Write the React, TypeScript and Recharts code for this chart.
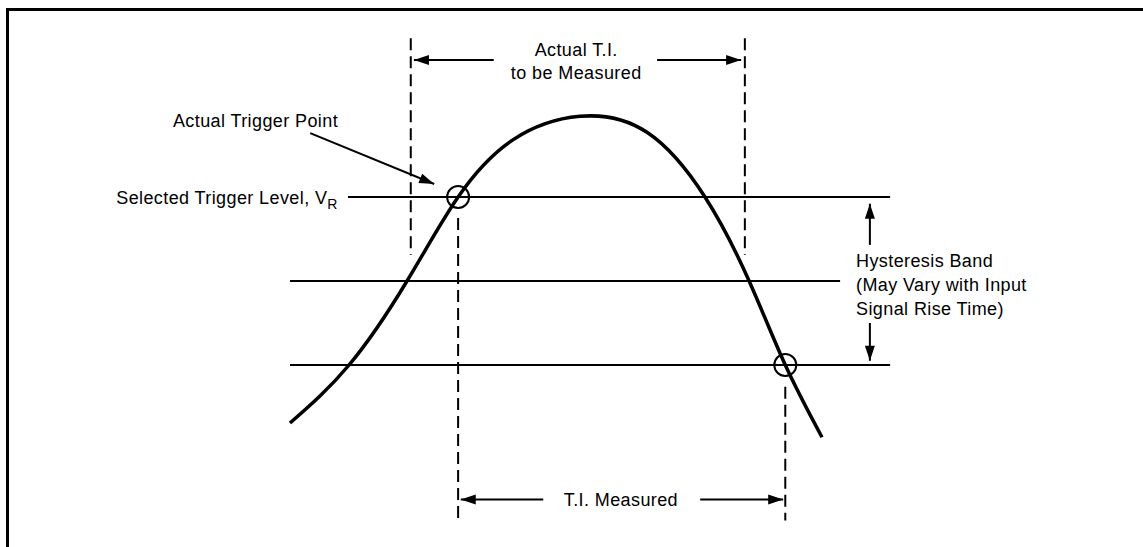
import React from "react";
import {
  LineChart,
  Line,
  XAxis,
  YAxis,
  ReferenceLine,
  ReferenceDot,
} from "recharts";

const WIDTH = 1143;
const HEIGHT = 547;
const MARGIN = { top: 113, right: 321, bottom: 98, left: 290 };
const T_DOMAIN: [number, number] = [0, 100];
const V_DOMAIN: [number, number] = [-1, 3];
const PX_PER_T = (WIDTH - MARGIN.left - MARGIN.right) / (T_DOMAIN[1] - T_DOMAIN[0]);
const PX_PER_V = (HEIGHT - MARGIN.top - MARGIN.bottom) / (V_DOMAIN[1] - V_DOMAIN[0]);
const FONT = "'Liberation Sans', Arial, Helvetica, sans-serif";

// input signal (time, volts)
const signalTime = [0, 11.1, 22.0, 31.6, 41.9, 54.5, 67.1, 78.0, 86.3, 93.1, 100];
const signalVolts = [-0.69, 0, 1.0, 2.0, 2.68, 2.96, 2.77, 2.0, 1.0, 0, -0.86];

// horizontal levels: trigger level, hysteresis middle, hysteresis bottom
const levelVolts = [2, 1, 0];
const levelStart = [10.9, 0, 0];
const levelEnd = [112.8, 103.4, 112.8];

// dashed time markers
const markerTime = [22.7, 85.5, 31.6, 93.1];
const markerTop = [3.89, 3.89, 1.75, -0.26];
const markerBottom = [1.31, 1.31, -1.85, -1.85];

// trigger crossings (circled)
const crossTime = [31.6, 93.1];
const crossVolts = [2, 0];

// arrows: tail -> tip
const arrowFromT = [38.3, 69.0, 47.6, 77.1, 109.0, 109.0, 3.8];
const arrowFromV = [3.63, 3.63, -1.6, -1.6, 1.43, 0.5, 2.76];
const arrowToT = [23.3, 84.8, 32.1, 92.7, 109.0, 109.0, 27.1];
const arrowToV = [3.63, 3.63, -1.6, -1.6, 1.92, 0.05, 2.155];

// text labels
const labelText = [
  ["Actual T.I."],
  ["to be Measured"],
  ["Actual Trigger Point"],
  ["Hysteresis Band", "(May Vary with Input", "Signal Rise Time)"],
  ["T.I. Measured"],
];
const labelT = [53.8, 53.8, -22.0, 106.4, 62.2];
const labelV = [3.68, 3.405, 2.833, 1.167, -1.68];
const labelAnchor = ["middle", "middle", "start", "start", "middle"];

const data = signalTime.map((t, i) => ({ t, v: signalVolts[i] }));

function ArrowHead({ cx, cy, angle }: { cx: number; cy: number; angle: number }) {
  const L = 15;
  const W = 5;
  const dx = Math.cos(angle);
  const dy = Math.sin(angle);
  const bx = cx - L * dx;
  const by = cy - L * dy;
  const pts = [
    [cx, cy],
    [bx - W * dy, by + W * dx],
    [bx + W * dy, by - W * dx],
  ]
    .map((p) => p.join(","))
    .join(" ");
  return <polygon points={pts} fill="#000" />;
}

export default function App() {
  return (
    <div style={{ position: "absolute", left: 0, top: 0, width: WIDTH, height: HEIGHT, background: "#fff" }}>
      <div
        style={{
          position: "absolute",
          left: 6,
          top: 8,
          width: WIDTH - 6,
          height: HEIGHT - 8,
          borderTop: "3px solid #000",
          borderLeft: "3px solid #000",
          boxSizing: "border-box",
        }}
      />
      <LineChart width={WIDTH} height={HEIGHT} data={data} margin={MARGIN} style={{ position: "absolute", left: 0, top: 0 }}>
        <XAxis type="number" dataKey="t" domain={T_DOMAIN} hide />
        <YAxis type="number" domain={V_DOMAIN} hide />

        {levelVolts.map((v, i) => (
          <ReferenceLine
            key={`lvl-${i}`}
            segment={[
              { x: levelStart[i], y: v },
              { x: levelEnd[i], y: v },
            ]}
            stroke="#000"
            strokeWidth={2}
            ifOverflow="visible"
          />
        ))}

        {markerTime.map((t, i) => (
          <ReferenceLine
            key={`mk-${i}`}
            segment={[
              { x: t, y: markerTop[i] },
              { x: t, y: markerBottom[i] },
            ]}
            stroke="#000"
            strokeWidth={2}
            strokeDasharray="12 6"
            ifOverflow="visible"
          />
        ))}

        {arrowFromT.map((t, i) => (
          <ReferenceLine
            key={`ar-${i}`}
            segment={[
              { x: t, y: arrowFromV[i] },
              { x: arrowToT[i], y: arrowToV[i] },
            ]}
            stroke="#000"
            strokeWidth={2}
            ifOverflow="visible"
          />
        ))}
        {arrowToT.map((t, i) => {
          const angle = Math.atan2(
            -(arrowToV[i] - arrowFromV[i]) * PX_PER_V,
            (t - arrowFromT[i]) * PX_PER_T
          );
          return (
            <ReferenceDot
              key={`ah-${i}`}
              x={t}
              y={arrowToV[i]}
              r={1}
              ifOverflow="visible"
              shape={(p: any) => <ArrowHead cx={p.cx} cy={p.cy} angle={angle} />}
            />
          );
        })}

        <Line
          dataKey="v"
          type="natural"
          stroke="#000"
          strokeWidth={3.5}
          dot={false}
          activeDot={false}
          isAnimationActive={false}
        />

        {crossTime.map((t, i) => (
          <ReferenceDot
            key={`cx-${i}`}
            x={t}
            y={crossVolts[i]}
            r={11}
            fill="none"
            stroke="#000"
            strokeWidth={2}
            ifOverflow="visible"
          />
        ))}

        {labelText.map((lines, i) => (
          <ReferenceDot
            key={`lb-${i}`}
            x={labelT[i]}
            y={labelV[i]}
            r={1}
            ifOverflow="visible"
            shape={(p: any) => (
              <text
                x={p.cx}
                y={p.cy}
                textAnchor={labelAnchor[i] as any}
                fontFamily={FONT}
                fontSize={18}
                letterSpacing={0.4}
                fill="#000"
              >
                {lines.map((s, j) => (
                  <tspan key={j} x={p.cx} dy={j === 0 ? 0 : 24}>
                    {s}
                  </tspan>
                ))}
              </text>
            )}
          />
        ))}

        <ReferenceDot
          x={9.0}
          y={1.917}
          r={1}
          ifOverflow="visible"
          shape={(p: any) => (
            <text
              x={p.cx}
              y={p.cy}
              textAnchor="end"
              fontFamily={FONT}
              fontSize={18}
              letterSpacing={0.4}
              fill="#000"
            >
              Selected Trigger Level, V
              <tspan dy={5} fontSize={14}>
                R
              </tspan>
            </text>
          )}
        />
      </LineChart>
    </div>
  );
}
